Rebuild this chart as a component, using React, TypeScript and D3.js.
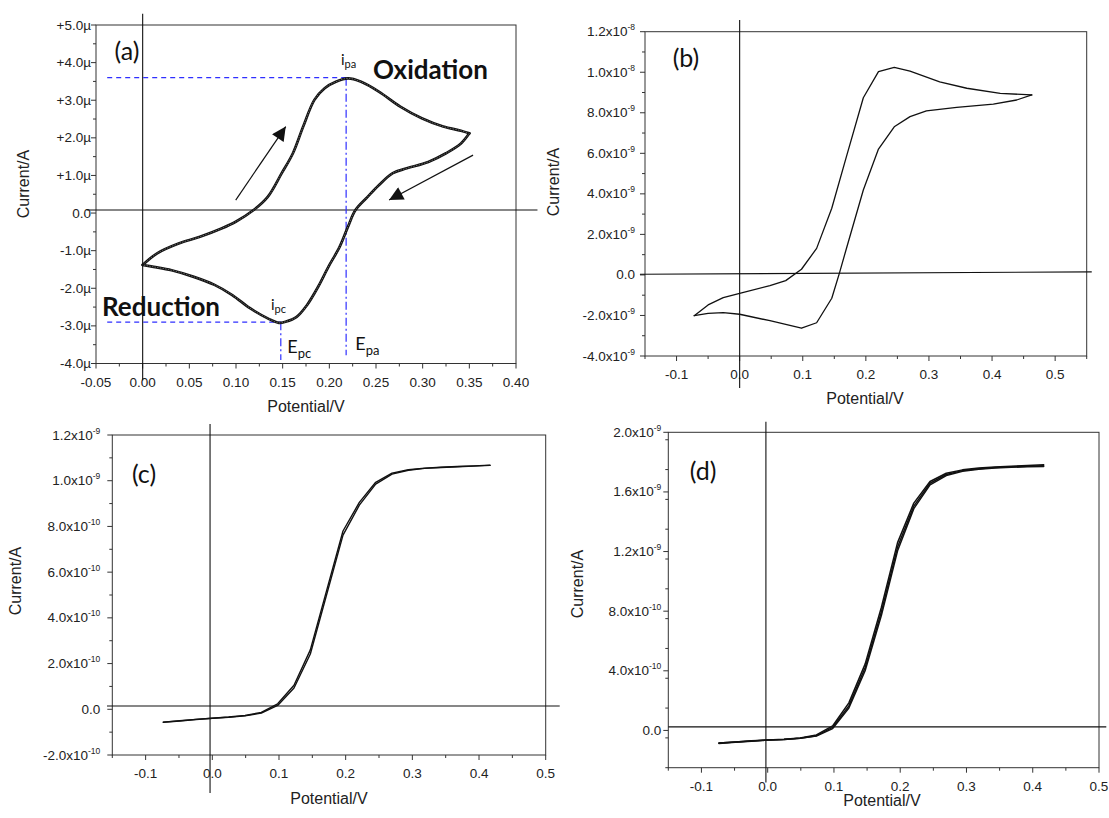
import React from 'react';
import * as d3 from 'd3';

const W = 1109;
const H = 818;

// ---------- Panel (a): cyclic voltammogram, current in µA ----------
const aForwardV = [0.0, 0.0155, 0.0385, 0.0614, 0.0844, 0.0997, 0.1189, 0.134, 0.149, 0.161, 0.172, 0.184, 0.195, 0.207, 0.22, 0.234, 0.253, 0.276, 0.299, 0.322, 0.341, 0.35];
const aForwardI = [-1.38, -1.07, -0.81, -0.63, -0.41, -0.23, 0.08, 0.43, 1.06, 1.59, 2.3, 3.01, 3.32, 3.49, 3.58, 3.49, 3.23, 2.83, 2.52, 2.3, 2.19, 2.12];
const aReverseV = [0.35, 0.341, 0.325, 0.306, 0.283, 0.268, 0.253, 0.241, 0.228, 0.22, 0.211, 0.199, 0.188, 0.176, 0.165, 0.153, 0.146, 0.134, 0.115, 0.096, 0.077, 0.054, 0.031, 0.0117, 0.0];
const aReverseI = [2.12, 1.85, 1.59, 1.36, 1.19, 1.06, 0.74, 0.43, 0.08, -0.36, -0.9, -1.43, -1.96, -2.45, -2.76, -2.89, -2.92, -2.8, -2.53, -2.18, -1.91, -1.69, -1.52, -1.43, -1.38];
const aXTicks = [-0.05, 0, 0.05, 0.1, 0.15, 0.2, 0.25, 0.3, 0.35, 0.4];
const aXTickLabels = ['-0.05', '0.00', '0.05', '0.10', '0.15', '0.20', '0.25', '0.30', '0.35', '0.40'];
const aYTicks = [5, 4, 3, 2, 1, 0, -1, -2, -3, -4];
const aYTickLabels = ['+5.0µ', '+4.0µ', '+3.0µ', '+2.0µ', '+1.0µ', '0.0', '-1.0µ', '-2.0µ', '-3.0µ', '-4.0µ'];
const aAnodicPeak = { E: 0.218, i: 3.6 };
const aCathodicPeak = { E: 0.148, i: -2.9 };

// ---------- Panel (b): CV, current in 1e-9 A ----------
const bForwardV = [-0.072, -0.05, -0.026, 0.0, 0.048, 0.073, 0.098, 0.122, 0.146, 0.17, 0.196, 0.22, 0.245, 0.27, 0.317, 0.36, 0.413, 0.463];
const bForwardI = [-2.01, -1.48, -1.12, -0.91, -0.53, -0.28, 0.28, 1.31, 3.29, 5.92, 8.74, 10.03, 10.24, 10.06, 9.53, 9.21, 8.96, 8.88];
const bReverseV = [0.463, 0.439, 0.402, 0.344, 0.296, 0.27, 0.245, 0.22, 0.196, 0.17, 0.158, 0.146, 0.122, 0.098, 0.048, 0.0, -0.026, -0.05, -0.072];
const bReverseI = [8.88, 8.63, 8.43, 8.27, 8.09, 7.81, 7.31, 6.21, 4.19, 1.39, 0.08, -1.15, -2.36, -2.63, -2.26, -1.94, -1.86, -1.9, -2.01];
const bYTicks = [12, 10, 8, 6, 4, 2, 0, -2, -4];
const bYTickLabels = [['1.2x10', '-8'], ['1.0x10', '-8'], ['8.0x10', '-9'], ['6.0x10', '-9'], ['4.0x10', '-9'], ['2.0x10', '-9'], ['0.0', ''], ['-2.0x10', '-9'], ['-4.0x10', '-9']];

// ---------- Panels (c),(d): steady-state voltammograms ----------
const sweepV = [-0.0735, -0.049, -0.0245, 0.0, 0.0245, 0.049, 0.0735, 0.098, 0.1225, 0.147, 0.1715, 0.196, 0.2205, 0.245, 0.2695, 0.294, 0.3185, 0.343, 0.3675, 0.392, 0.4165];
// (c) current in 1e-10 A
const cForwardI = [-0.57, -0.51, -0.45, -0.39, -0.34, -0.27, -0.14, 0.24, 1.05, 2.6, 5.2, 7.8, 9.05, 9.93, 10.33, 10.48, 10.55, 10.59, 10.62, 10.65, 10.68];
const cReverseI = [-0.56, -0.5, -0.44, -0.39, -0.35, -0.29, -0.17, 0.17, 0.93, 2.42, 5.02, 7.62, 8.93, 9.85, 10.29, 10.46, 10.54, 10.58, 10.61, 10.64, 10.67];
const cYTicks = [12, 10, 8, 6, 4, 2, 0, -2];
const cYTickLabels = [['1.2x10', '-9'], ['1.0x10', '-9'], ['8.0x10', '-10'], ['6.0x10', '-10'], ['4.0x10', '-10'], ['2.0x10', '-10'], ['0.0', ''], ['-2.0x10', '-10']];
// (d) current in 1e-10 A, three overlapping cycles
const dCycle1I = [-0.87, -0.79, -0.72, -0.65, -0.59, -0.5, -0.3, 0.3, 1.85, 4.45, 8.25, 12.6, 15.25, 16.7, 17.25, 17.48, 17.6, 17.68, 17.73, 17.77, 17.82];
const dCycle2I = [-0.85, -0.78, -0.71, -0.65, -0.6, -0.52, -0.35, 0.2, 1.65, 4.2, 7.95, 12.3, 15.05, 16.58, 17.17, 17.43, 17.56, 17.64, 17.69, 17.73, 17.76];
const dCycle3I = [-0.84, -0.77, -0.7, -0.64, -0.6, -0.53, -0.38, 0.12, 1.5, 4.0, 7.7, 12.05, 14.88, 16.47, 17.1, 17.38, 17.52, 17.6, 17.65, 17.69, 17.71];
const dYTicks = [20, 16, 12, 8, 4, 0];
const dYTickLabels = [['2.0x10', '-9'], ['1.6x10', '-9'], ['1.2x10', '-9'], ['8.0x10', '-10'], ['4.0x10', '-10'], ['0.0', '']];

const vTicks = [-0.1, 0, 0.1, 0.2, 0.3, 0.4, 0.5];
const vTickLabels = ['-0.1', '0.0', '0.1', '0.2', '0.3', '0.4', '0.5'];

type Lab = string[];
interface Trace { xs: number[]; ys: number[]; width: number; color: string; smooth?: boolean; inner?: boolean }
interface PanelCfg {
  box: { l: number; r: number; t: number; b: number };
  xDomain: [number, number];
  yDomain: [number, number];
  xMajor: number[];
  xLabels: string[];
  xMinorStep: number;
  yMajor: number[];
  yLabels: Lab[];
  yMinorStep: number;
  yGap: number;
  hLine: [number, number, number, number];
  vLine: [number, number, number];
  traces: Trace[];
  yTitle: [number, number];
  xTitle: [number, number];
  tag: [string, number, number];
  extra?: (x: d3.ScaleLinear<number, number>, y: d3.ScaleLinear<number, number>) => React.ReactNode;
}

const TEXT = '#222';
const FRAME = '#333';

function range(a: number, b: number, step: number) {
  const out: number[] = [];
  const n = Math.round((b - a) / step);
  for (let i = 0; i <= n; i++) out.push(+(a + i * step).toFixed(6));
  return out;
}

function Panel({ cfg }: { cfg: PanelCfg }) {
  const { box } = cfg;
  const x = d3.scaleLinear().domain(cfg.xDomain).range([box.l, box.r]);
  const y = d3.scaleLinear().domain(cfg.yDomain).range([box.b, box.t]);
  const xMinor = range(cfg.xDomain[0], cfg.xDomain[1], cfg.xMinorStep).filter(v => !cfg.xMajor.some(m => Math.abs(m - v) < 1e-6));
  const yMinor = range(cfg.yDomain[0], cfg.yDomain[1], cfg.yMinorStep).filter(v => !cfg.yMajor.some(m => Math.abs(m - v) < 1e-6));
  return (
    <g>
      <rect x={box.l} y={box.t} width={box.r - box.l} height={box.b - box.t} fill="none" stroke={FRAME} strokeWidth={1} />
      {cfg.xMajor.map((v, i) => (
        <g key={'xm' + i}>
          <line x1={x(v)} x2={x(v)} y1={box.b} y2={box.b + 5} stroke={FRAME} />
          <text x={x(v)} y={box.b + 23} fontSize={13.5} fill={TEXT} textAnchor="middle">{cfg.xLabels[i]}</text>
        </g>
      ))}
      {xMinor.map((v, i) => (
        <line key={'xn' + i} x1={x(v)} x2={x(v)} y1={box.b} y2={box.b + 3} stroke={FRAME} />
      ))}
      {cfg.yMajor.map((v, i) => (
        <g key={'ym' + i}>
          <line x1={box.l - 5} x2={box.l} y1={y(v)} y2={y(v)} stroke={FRAME} />
          <text x={box.l - cfg.yGap} y={y(v) + 4.5} fontSize={13.5} fill={TEXT} textAnchor="end">
            {cfg.yLabels[i][0]}
            {cfg.yLabels[i][1] ? <tspan dy={-6} fontSize={8.5}>{cfg.yLabels[i][1]}</tspan> : null}
          </text>
        </g>
      ))}
      {yMinor.map((v, i) => (
        <line key={'yn' + i} x1={box.l - 3} x2={box.l} y1={y(v)} y2={y(v)} stroke={FRAME} />
      ))}
      <line x1={x(cfg.hLine[0])} y1={y(cfg.hLine[1])} x2={x(cfg.hLine[2])} y2={y(cfg.hLine[3])} stroke="#111" strokeWidth={1.1} />
      <line x1={x(cfg.vLine[0])} y1={y(cfg.vLine[1])} x2={x(cfg.vLine[0])} y2={y(cfg.vLine[2])} stroke="#111" strokeWidth={1.1} />
      {cfg.extra ? cfg.extra(x, y) : null}
      {cfg.traces.map((tr, i) => {
        const pts: [number, number][] = tr.xs.map((v, k) => [v, tr.ys[k]]);
        const gen = d3.line<[number, number]>().x(d => x(d[0])).y(d => y(d[1]))
          .curve(tr.smooth ? d3.curveCatmullRom.alpha(0.5) : d3.curveLinear);
        const dStr = gen(pts) || '';
        return (
          <g key={'tr' + i}>
            <path d={dStr} fill="none" stroke={tr.color} strokeWidth={tr.width} strokeLinejoin="round" strokeLinecap="round" />
            {tr.inner ? <path d={dStr} fill="none" stroke="#8a8a8a" strokeWidth={0.7} strokeDasharray="1.5,1.2" /> : null}
          </g>
        );
      })}
      <text transform={`translate(${cfg.yTitle[0]},${cfg.yTitle[1]}) rotate(-90)`} fontSize={16} fill={TEXT} textAnchor="middle" dominantBaseline="central">Current/A</text>
      <text x={cfg.xTitle[0]} y={cfg.xTitle[1]} fontSize={16} fill={TEXT} textAnchor="middle" dominantBaseline="central">Potential/V</text>
      <text x={cfg.tag[1]} y={cfg.tag[2]} fontSize={25} fill="#111" fontFamily="Lato, 'Open Sans', sans-serif" textAnchor="middle" dominantBaseline="central">{cfg.tag[0]}</text>
    </g>
  );
}

const BLUE = '#2f2fff';
const CAL = "Lato, 'Open Sans', sans-serif";

const panelA: PanelCfg = {
  box: { l: 96, r: 516, t: 25, b: 363.5 },
  xDomain: [-0.05, 0.4],
  yDomain: [-4, 5],
  xMajor: aXTicks,
  xLabels: aXTickLabels,
  xMinorStep: 0.025,
  yMajor: aYTicks,
  yLabels: aYTickLabels.map(s => [s, '']),
  yMinorStep: 0.5,
  yGap: 5,
  hLine: [-0.06, 0.08, 0.423, 0.08],
  vLine: [0, 5.3, -4.45],
  traces: [
    { xs: aForwardV, ys: aForwardI, width: 2.7, color: '#111', smooth: true, inner: true },
    { xs: aReverseV, ys: aReverseI, width: 2.7, color: '#111', smooth: true, inner: true },
  ],
  yTitle: [23, 184],
  xTitle: [306, 406],
  tag: ['(a)', 127, 50],
  extra: (x, y) => (
    <g>
      <line x1={x(-0.038)} x2={x(aAnodicPeak.E)} y1={y(aAnodicPeak.i)} y2={y(aAnodicPeak.i)} stroke={BLUE} strokeWidth={1.2} strokeDasharray="5,4" />
      <line x1={x(aAnodicPeak.E)} x2={x(aAnodicPeak.E)} y1={y(aAnodicPeak.i)} y2={y(-3.78)} stroke={BLUE} strokeWidth={1.2} strokeDasharray="8,3,2,3" />
      <line x1={x(-0.038)} x2={x(aCathodicPeak.E + 0.001)} y1={y(aCathodicPeak.i)} y2={y(aCathodicPeak.i)} stroke={BLUE} strokeWidth={1.2} strokeDasharray="5,4" />
      <line x1={x(aCathodicPeak.E)} x2={x(aCathodicPeak.E)} y1={y(aCathodicPeak.i)} y2={y(-3.91)} stroke={BLUE} strokeWidth={1.2} strokeDasharray="8,3,2,3" />
      <line x1={x(0.0997)} y1={y(0.346)} x2={x(0.1533)} y2={y(2.3)} stroke="#111" strokeWidth={1.2} markerEnd="url(#arrowHead)" />
      <line x1={x(0.354)} y1={y(1.54)} x2={x(0.264)} y2={y(0.346)} stroke="#111" strokeWidth={1.2} markerEnd="url(#arrowHead)" />
      <text x={x(0.2125)} y={y(3.94)} fontFamily={CAL} fontSize={15} fill="#111">i<tspan dy={3} fontSize={11}>pa</tspan></text>
      <text x={x(0.1375)} y={y(-2.58)} fontFamily={CAL} fontSize={15} fill="#111">i<tspan dy={3} fontSize={11}>pc</tspan></text>
      <text x={x(0.155)} y={y(-3.72)} fontFamily={CAL} fontSize={18} fill="#111">E<tspan dy={5} fontSize={13}>pc</tspan></text>
      <text x={x(0.2279)} y={y(-3.64)} fontFamily={CAL} fontSize={18} fill="#111">E<tspan dy={5} fontSize={13}>pa</tspan></text>
      <text x={373} y={79} fontFamily={CAL} fontWeight="bold" fontSize={26} fill="#111">Oxidation</text>
      <text x={102} y={316} fontFamily={CAL} fontWeight="bold" fontSize={26} fill="#111">Reduction</text>
    </g>
  ),
};

const panelB: PanelCfg = {
  box: { l: 645, r: 1086.7, t: 31.7, b: 356 },
  xDomain: [-0.15, 0.55],
  yDomain: [-4, 12],
  xMajor: vTicks,
  xLabels: vTickLabels,
  xMinorStep: 0.05,
  yMajor: bYTicks,
  yLabels: bYTickLabels,
  yMinorStep: 1,
  yGap: 10,
  hLine: [-0.158, 0.03, 0.558, 0.15],
  vLine: [0, 12.58, -5.58],
  traces: [
    { xs: bForwardV, ys: bForwardI, width: 1.3, color: '#111' },
    { xs: bReverseV, ys: bReverseI, width: 1.3, color: '#111' },
  ],
  yTitle: [553, 182],
  xTitle: [865, 398],
  tag: ['(b)', 686, 57],
};

const panelC: PanelCfg = {
  box: { l: 112.3, r: 545.7, t: 435, b: 755 },
  xDomain: [-0.15, 0.5],
  yDomain: [-2, 12],
  xMajor: vTicks,
  xLabels: vTickLabels,
  xMinorStep: 0.05,
  yMajor: cYTicks,
  yLabels: cYTickLabels,
  yMinorStep: 1,
  yGap: 12,
  hLine: [-0.158, 0.145, 0.521, 0.145],
  vLine: [-0.0034, 12.48, -3.66],
  traces: [
    { xs: sweepV, ys: cForwardI, width: 1.4, color: '#111' },
    { xs: sweepV, ys: cReverseI, width: 1.4, color: '#111' },
  ],
  yTitle: [15, 581],
  xTitle: [329, 798],
  tag: ['(c)', 144, 473],
};

const panelD: PanelCfg = {
  box: { l: 668.3, r: 1099, t: 432.3, b: 767.7 },
  xDomain: [-0.15, 0.5],
  yDomain: [-2.5, 20],
  xMajor: vTicks,
  xLabels: vTickLabels,
  xMinorStep: 0.05,
  yMajor: dYTicks,
  yLabels: dYTickLabels,
  yMinorStep: 2,
  yGap: 7,
  hLine: [-0.15, 0.24, 0.511, 0.24],
  vLine: [-0.0027, 20.7, -3.5],
  traces: [
    { xs: sweepV, ys: dCycle1I, width: 1.5, color: '#111' },
    { xs: sweepV, ys: dCycle2I, width: 1.5, color: '#111' },
    { xs: sweepV, ys: dCycle3I, width: 1.5, color: '#111' },
  ],
  yTitle: [577, 584],
  xTitle: [882, 800],
  tag: ['(d)', 703, 470],
};

export default function App() {
  return (
    <svg width={W} height={H} viewBox={`0 0 ${W} ${H}`} style={{ position: 'absolute', left: 0, top: 0, background: '#fff' }}
      fontFamily="'Liberation Sans', Arial, sans-serif">
      <defs>
        <marker id="arrowHead" viewBox="0 0 10 10" refX={10} refY={5} markerWidth={17} markerHeight={14}
          markerUnits="userSpaceOnUse" orient="auto">
          <path d="M0,0 L10,5 L0,10 z" fill="#111" />
        </marker>
      </defs>
      <rect x={0} y={0} width={W} height={H} fill="#fff" />
      <Panel cfg={panelA} />
      <Panel cfg={panelB} />
      <Panel cfg={panelC} />
      <Panel cfg={panelD} />
    </svg>
  );
}
